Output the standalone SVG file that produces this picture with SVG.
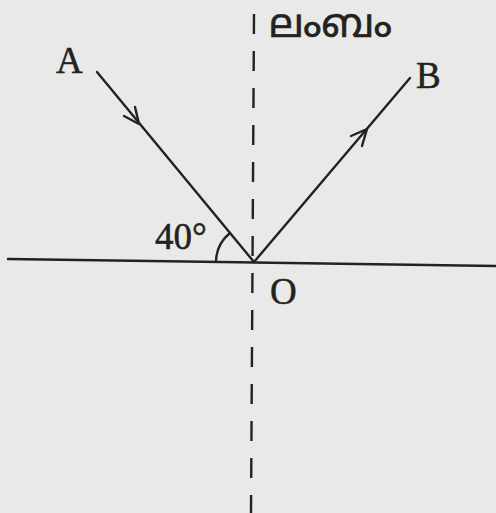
<svg xmlns="http://www.w3.org/2000/svg" width="496" height="513" viewBox="0 0 496 513">
<style>
.ln{stroke:#222;stroke-width:2.4;fill:none;stroke-linecap:round;stroke-linejoin:round}
.dash{stroke:#222;stroke-width:2.4;fill:none;stroke-dasharray:20 17}
.lbl{font-family:"Liberation Serif","Times New Roman",serif;font-size:37px;fill:#222;stroke:#222;stroke-width:0.5}
.ml{font-family:"Noto Sans Malayalam","Noto Sans","DejaVu Sans",sans-serif;font-size:40px;fill:#222;stroke:#222;stroke-width:0.6}
</style>
<rect width="496" height="513" fill="#e9e9e7"/>
<g id="normal">
<line class="dash" x1="254" y1="14" x2="251" y2="513"/>
<text class="ml" x="269" y="37">ലംബം</text>
</g>
<g id="surface">
<line class="ln" x1="8" y1="259" x2="496" y2="266"/>
</g>
<g id="connectors">
<line class="ln" x1="97" y1="72" x2="254" y2="262"/>
<polyline class="ln" points="124,116 139,124 135,107"/>
<line class="ln" x1="254" y1="262" x2="410" y2="78"/>
<polyline class="ln" points="351,136 367,129 362,146"/>
<path class="ln" d="M216 261 A38 38 0 0 1 230 233"/>
</g>
<g id="A"><text class="lbl" x="56" y="73">A</text></g>
<g id="B"><text class="lbl" x="416" y="88">B</text></g>
<g id="O"><text class="lbl" x="270" y="304">O</text></g>
<g id="angle"><text class="lbl" x="155" y="249" font-size="34">40°</text></g>
</svg>
